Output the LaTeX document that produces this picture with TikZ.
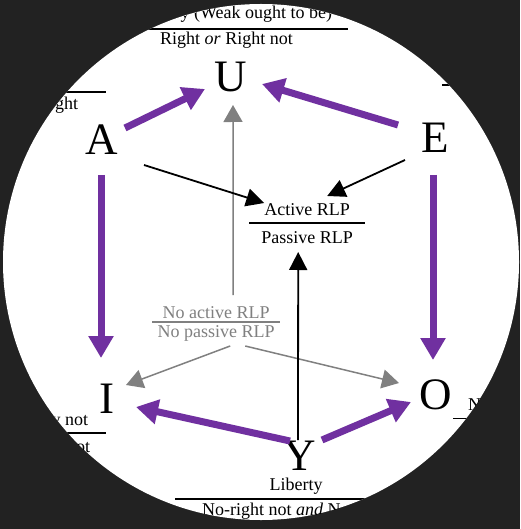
\documentclass[tikz,border=0pt]{standalone}
\usepackage{fontspec}
\setmainfont{Liberation Serif}
\usetikzlibrary{calc,arrows.meta}
\definecolor{frame}{RGB}{34,34,34}
\definecolor{hexpurple}{RGB}{112,48,160}
\definecolor{rlpgray}{RGB}{128,128,128}
\setlength{\arrayrulewidth}{1.5pt}
% two lines over a rule: depth under top line, height over bottom line
\newcommand{\stk}[4]{{\renewcommand{\arraystretch}{0.1}%
  \begin{tabular}[b]{@{}l@{}}\rule[-#1]{0pt}{#1}#3\\\hline\rule{0pt}{#2}#4\end{tabular}}}
\tikzset{
  vtx/.style={font=\fontsize{45}{54}\selectfont,inner sep=0pt,anchor=base},
  lab/.style={font=\fontsize{18}{21.6}\selectfont,inner sep=0pt,anchor=base west},
  pur/.style={-{Triangle[length=22pt,width=24pt]},line width=7pt,hexpurple},
  blk/.style={-{Triangle[length=18pt,width=18pt]},line width=1.8pt,black},
  gry/.style={-{Triangle[length=17pt,width=19pt]},line width=1.5pt,rlpgray},
}
\begin{document}
\begin{tikzpicture}[x=1pt,y=-1pt]
  \useasboundingbox (0,0) rectangle (520,529);
  \fill[frame] (0,0) rectangle (520,529);
  \fill[white] (261,262) circle (258);
  \clip (261,262) circle (258);
  % the six corners
  \node[vtx] (U) at (231,92) {U};
  \node[vtx] (A) at (102,155) {A};
  \node[vtx] (E) at (435,153) {E};
  \node[vtx] (I) at (107,413) {I};
  \node[vtx] (O) at (436,409) {O};
  \node[vtx] (Y) at (300,470) {Y};
  % corner labels, cut by the round frame
  \node[lab] (Ulab) at (130,45) {\stk{9.25pt}{15.25pt}{\makebox[218pt][r]{y (Weak ought to be)\hspace{16pt}}}{\makebox[218pt][l]{\hspace{30pt}Right \textit{or} Right not}}};
  \node[lab] (Alab) at (40,110) {\stk{7.5pt}{17.25pt}{\makebox[66pt]{}}{\makebox[66pt][r]{ght\hspace{28pt}}}};
  \node[lab] (Elab) at (442,103) {\stk{7.5pt}{17.25pt}{\makebox[60pt]{}}{\makebox[60pt]{}}};
  \node[lab] (Ilab) at (40,452) {\stk{7.25pt}{18.25pt}{\makebox[66pt][r]{y not\hspace{18pt}}}{\makebox[66pt][r]{not\hspace{16pt}}}};
  \node[lab] (Olab) at (453,436) {\stk{7.25pt}{17pt}{\makebox[60pt][l]{\hspace{15pt}N}}{\makebox[60pt]{}}};
  \node[lab] (Ylab) at (175,515) {\stk{8.25pt}{15.25pt}{\makebox[242pt]{Liberty}}{\makebox[242pt][l]{\hspace{27pt}No-right not \textit{and} N}}};
  % RLP boxes
  \node[lab] (act) at (249,243) {\stk{7.25pt}{19.25pt}{\makebox[116pt]{Active RLP}}{\makebox[116pt]{Passive RLP}}};
  \node[lab,text=rlpgray] (noact) at (152,337) {\stk{3.25pt}{14.25pt}{\makebox[128pt]{No active RLP}}{\makebox[128pt]{No passive RLP}}};
  % arrows
  \draw[gry] ($(noact.base)+(17,-42)$) -- ($(U.base)+(2,13)$);
  \draw[gry] ($(noact.base)+(14,9)$) -- ($(I.base)+(19,-28)$);
  \draw[gry] ($(noact.base)+(29,9)$) -- ($(O.base)+(-37,-26)$);
  \draw[blk] ($(A.base)+(42,10)$) -- ($(act.base)+(-43,-40)$);
  \draw[blk] ($(E.base)+(-30,7)$) -- ($(act.base)+(20,-47)$);
  \draw[blk] ($(Y.base)+(-2,-30)$) -- ($(act.base)+(-9,9)$);
  \draw[pur] ($(A.base)+(23,-27)$) -- ($(U.base)+(-26,-3)$);
  \draw[pur] ($(E.base)+(-37,-28)$) -- ($(U.base)+(31,-8)$);
  \draw[pur] ($(A.base)+(-1,20)$) -- ($(I.base)+(-6,-55)$);
  \draw[pur] ($(E.base)+(-2,22)$) -- ($(O.base)+(-3,-49)$);
  \draw[pur] ($(Y.base)+(-10,-29)$) -- ($(I.base)+(29,-6)$);
  \draw[pur] ($(Y.base)+(22,-30)$) -- ($(O.base)+(-25,-7)$);
\end{tikzpicture}
\end{document}
